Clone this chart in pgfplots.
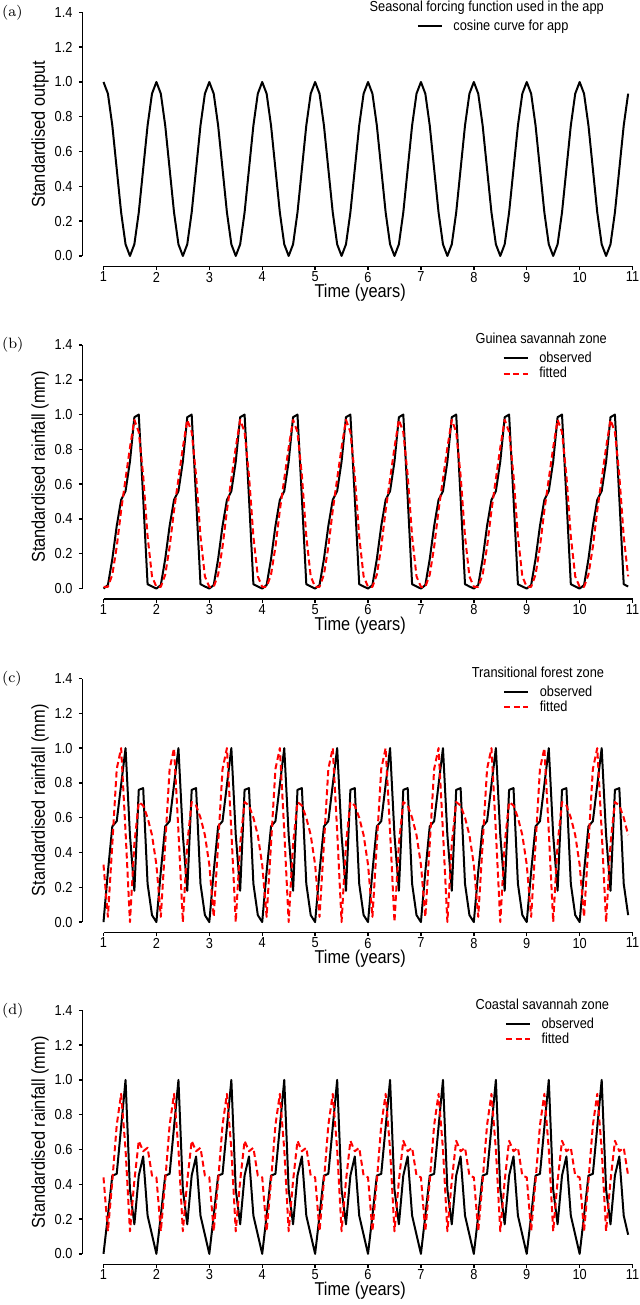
\documentclass[border=0pt]{standalone}
\usepackage{pgfplots}
\pgfplotsset{compat=1.18}
\usepackage{pgfplotstable}
\usepackage{fontspec}
\newfontfamily\nf[FakeStretch=0.88]{Liberation Sans}
\newcommand\ticfont{\nf\fontsize{7.25}{8.5}\selectfont}
\newcommand\labfont{\nf\fontsize{9.3}{11}\selectfont}

% (a) cosine forcing curve, monthly
\pgfplotstableread[row sep=\\]{
t y\\
1.0000 1.000\\ 1.0833 0.933\\ 1.1667 0.750\\ 1.2500 0.500\\ 1.3333 0.250\\ 1.4167 0.067\\ 1.5000 0.000\\ 1.5833 0.067\\ 1.6667 0.250\\ 1.7500 0.500\\ 1.8333 0.750\\ 1.9167 0.933\\
2.0000 1.000\\ 2.0833 0.933\\ 2.1667 0.750\\ 2.2500 0.500\\ 2.3333 0.250\\ 2.4167 0.067\\ 2.5000 0.000\\ 2.5833 0.067\\ 2.6667 0.250\\ 2.7500 0.500\\ 2.8333 0.750\\ 2.9167 0.933\\
3.0000 1.000\\ 3.0833 0.933\\ 3.1667 0.750\\ 3.2500 0.500\\ 3.3333 0.250\\ 3.4167 0.067\\ 3.5000 0.000\\ 3.5833 0.067\\ 3.6667 0.250\\ 3.7500 0.500\\ 3.8333 0.750\\ 3.9167 0.933\\
4.0000 1.000\\ 4.0833 0.933\\ 4.1667 0.750\\ 4.2500 0.500\\ 4.3333 0.250\\ 4.4167 0.067\\ 4.5000 0.000\\ 4.5833 0.067\\ 4.6667 0.250\\ 4.7500 0.500\\ 4.8333 0.750\\ 4.9167 0.933\\
5.0000 1.000\\ 5.0833 0.933\\ 5.1667 0.750\\ 5.2500 0.500\\ 5.3333 0.250\\ 5.4167 0.067\\ 5.5000 0.000\\ 5.5833 0.067\\ 5.6667 0.250\\ 5.7500 0.500\\ 5.8333 0.750\\ 5.9167 0.933\\
6.0000 1.000\\ 6.0833 0.933\\ 6.1667 0.750\\ 6.2500 0.500\\ 6.3333 0.250\\ 6.4167 0.067\\ 6.5000 0.000\\ 6.5833 0.067\\ 6.6667 0.250\\ 6.7500 0.500\\ 6.8333 0.750\\ 6.9167 0.933\\
7.0000 1.000\\ 7.0833 0.933\\ 7.1667 0.750\\ 7.2500 0.500\\ 7.3333 0.250\\ 7.4167 0.067\\ 7.5000 0.000\\ 7.5833 0.067\\ 7.6667 0.250\\ 7.7500 0.500\\ 7.8333 0.750\\ 7.9167 0.933\\
8.0000 1.000\\ 8.0833 0.933\\ 8.1667 0.750\\ 8.2500 0.500\\ 8.3333 0.250\\ 8.4167 0.067\\ 8.5000 0.000\\ 8.5833 0.067\\ 8.6667 0.250\\ 8.7500 0.500\\ 8.8333 0.750\\ 8.9167 0.933\\
9.0000 1.000\\ 9.0833 0.933\\ 9.1667 0.750\\ 9.2500 0.500\\ 9.3333 0.250\\ 9.4167 0.067\\ 9.5000 0.000\\ 9.5833 0.067\\ 9.6667 0.250\\ 9.7500 0.500\\ 9.8333 0.750\\ 9.9167 0.933\\
10.0000 1.000\\ 10.0833 0.933\\ 10.1667 0.750\\ 10.2500 0.500\\ 10.3333 0.250\\ 10.4167 0.067\\ 10.5000 0.000\\ 10.5833 0.067\\ 10.6667 0.250\\ 10.7500 0.500\\ 10.8333 0.750\\ 10.9167 0.933\\
}\tabA

% (b) Guinea savannah zone: observed, fitted
\pgfplotstableread[row sep=\\]{
t obs fit\\
1.0000 0.000 0.010\\ 1.0833 0.020 0.010\\ 1.1667 0.170 0.080\\ 1.2500 0.360 0.240\\ 1.3333 0.510 0.450\\ 1.4167 0.560 0.630\\ 1.5000 0.730 0.810\\ 1.5833 0.985 0.970\\ 1.6667 1.000 0.900\\ 1.7500 0.520 0.650\\ 1.8333 0.025 0.300\\ 1.9167 0.012 0.070\\
2.0000 0.000 0.010\\ 2.0833 0.020 0.010\\ 2.1667 0.170 0.080\\ 2.2500 0.360 0.240\\ 2.3333 0.510 0.450\\ 2.4167 0.560 0.630\\ 2.5000 0.730 0.810\\ 2.5833 0.985 0.970\\ 2.6667 1.000 0.900\\ 2.7500 0.520 0.650\\ 2.8333 0.025 0.300\\ 2.9167 0.012 0.070\\
3.0000 0.000 0.010\\ 3.0833 0.020 0.010\\ 3.1667 0.170 0.080\\ 3.2500 0.360 0.240\\ 3.3333 0.510 0.450\\ 3.4167 0.560 0.630\\ 3.5000 0.730 0.810\\ 3.5833 0.985 0.970\\ 3.6667 1.000 0.900\\ 3.7500 0.520 0.650\\ 3.8333 0.025 0.300\\ 3.9167 0.012 0.070\\
4.0000 0.000 0.010\\ 4.0833 0.020 0.010\\ 4.1667 0.170 0.080\\ 4.2500 0.360 0.240\\ 4.3333 0.510 0.450\\ 4.4167 0.560 0.630\\ 4.5000 0.730 0.810\\ 4.5833 0.985 0.970\\ 4.6667 1.000 0.900\\ 4.7500 0.520 0.650\\ 4.8333 0.025 0.300\\ 4.9167 0.012 0.070\\
5.0000 0.000 0.010\\ 5.0833 0.020 0.010\\ 5.1667 0.170 0.080\\ 5.2500 0.360 0.240\\ 5.3333 0.510 0.450\\ 5.4167 0.560 0.630\\ 5.5000 0.730 0.810\\ 5.5833 0.985 0.970\\ 5.6667 1.000 0.900\\ 5.7500 0.520 0.650\\ 5.8333 0.025 0.300\\ 5.9167 0.012 0.070\\
6.0000 0.000 0.010\\ 6.0833 0.020 0.010\\ 6.1667 0.170 0.080\\ 6.2500 0.360 0.240\\ 6.3333 0.510 0.450\\ 6.4167 0.560 0.630\\ 6.5000 0.730 0.810\\ 6.5833 0.985 0.970\\ 6.6667 1.000 0.900\\ 6.7500 0.520 0.650\\ 6.8333 0.025 0.300\\ 6.9167 0.012 0.070\\
7.0000 0.000 0.010\\ 7.0833 0.020 0.010\\ 7.1667 0.170 0.080\\ 7.2500 0.360 0.240\\ 7.3333 0.510 0.450\\ 7.4167 0.560 0.630\\ 7.5000 0.730 0.810\\ 7.5833 0.985 0.970\\ 7.6667 1.000 0.900\\ 7.7500 0.520 0.650\\ 7.8333 0.025 0.300\\ 7.9167 0.012 0.070\\
8.0000 0.000 0.010\\ 8.0833 0.020 0.010\\ 8.1667 0.170 0.080\\ 8.2500 0.360 0.240\\ 8.3333 0.510 0.450\\ 8.4167 0.560 0.630\\ 8.5000 0.730 0.810\\ 8.5833 0.985 0.970\\ 8.6667 1.000 0.900\\ 8.7500 0.520 0.650\\ 8.8333 0.025 0.300\\ 8.9167 0.012 0.070\\
9.0000 0.000 0.010\\ 9.0833 0.020 0.010\\ 9.1667 0.170 0.080\\ 9.2500 0.360 0.240\\ 9.3333 0.510 0.450\\ 9.4167 0.560 0.630\\ 9.5000 0.730 0.810\\ 9.5833 0.985 0.970\\ 9.6667 1.000 0.900\\ 9.7500 0.520 0.650\\ 9.8333 0.025 0.300\\ 9.9167 0.012 0.070\\
10.0000 0.000 0.010\\ 10.0833 0.020 0.010\\ 10.1667 0.170 0.080\\ 10.2500 0.360 0.240\\ 10.3333 0.510 0.450\\ 10.4167 0.560 0.630\\ 10.5000 0.730 0.810\\ 10.5833 0.985 0.970\\ 10.6667 1.000 0.900\\ 10.7500 0.520 0.650\\ 10.8333 0.025 0.300\\ 10.9167 0.012 0.070\\
}\tabB

% (c) Transitional forest zone: observed, fitted
\pgfplotstableread[row sep=\\]{
t obs fit\\
1.0000 0.000 0.330\\ 1.0833 0.290 0.030\\ 1.1667 0.550 0.450\\ 1.2500 0.580 0.880\\ 1.3333 0.790 1.000\\ 1.4167 1.000 0.520\\ 1.5000 0.500 0.000\\ 1.5833 0.180 0.450\\ 1.6667 0.760 0.690\\ 1.7500 0.770 0.670\\ 1.8333 0.220 0.600\\ 1.9167 0.040 0.500\\
2.0000 0.000 0.330\\ 2.0833 0.290 0.030\\ 2.1667 0.550 0.450\\ 2.2500 0.580 0.880\\ 2.3333 0.790 1.000\\ 2.4167 1.000 0.520\\ 2.5000 0.500 0.000\\ 2.5833 0.180 0.450\\ 2.6667 0.760 0.690\\ 2.7500 0.770 0.670\\ 2.8333 0.220 0.600\\ 2.9167 0.040 0.500\\
3.0000 0.000 0.330\\ 3.0833 0.290 0.030\\ 3.1667 0.550 0.450\\ 3.2500 0.580 0.880\\ 3.3333 0.790 1.000\\ 3.4167 1.000 0.520\\ 3.5000 0.500 0.000\\ 3.5833 0.180 0.450\\ 3.6667 0.760 0.690\\ 3.7500 0.770 0.670\\ 3.8333 0.220 0.600\\ 3.9167 0.040 0.500\\
4.0000 0.000 0.330\\ 4.0833 0.290 0.030\\ 4.1667 0.550 0.450\\ 4.2500 0.580 0.880\\ 4.3333 0.790 1.000\\ 4.4167 1.000 0.520\\ 4.5000 0.500 0.000\\ 4.5833 0.180 0.450\\ 4.6667 0.760 0.690\\ 4.7500 0.770 0.670\\ 4.8333 0.220 0.600\\ 4.9167 0.040 0.500\\
5.0000 0.000 0.330\\ 5.0833 0.290 0.030\\ 5.1667 0.550 0.450\\ 5.2500 0.580 0.880\\ 5.3333 0.790 1.000\\ 5.4167 1.000 0.520\\ 5.5000 0.500 0.000\\ 5.5833 0.180 0.450\\ 5.6667 0.760 0.690\\ 5.7500 0.770 0.670\\ 5.8333 0.220 0.600\\ 5.9167 0.040 0.500\\
6.0000 0.000 0.330\\ 6.0833 0.290 0.030\\ 6.1667 0.550 0.450\\ 6.2500 0.580 0.880\\ 6.3333 0.790 1.000\\ 6.4167 1.000 0.520\\ 6.5000 0.500 0.000\\ 6.5833 0.180 0.450\\ 6.6667 0.760 0.690\\ 6.7500 0.770 0.670\\ 6.8333 0.220 0.600\\ 6.9167 0.040 0.500\\
7.0000 0.000 0.330\\ 7.0833 0.290 0.030\\ 7.1667 0.550 0.450\\ 7.2500 0.580 0.880\\ 7.3333 0.790 1.000\\ 7.4167 1.000 0.520\\ 7.5000 0.500 0.000\\ 7.5833 0.180 0.450\\ 7.6667 0.760 0.690\\ 7.7500 0.770 0.670\\ 7.8333 0.220 0.600\\ 7.9167 0.040 0.500\\
8.0000 0.000 0.330\\ 8.0833 0.290 0.030\\ 8.1667 0.550 0.450\\ 8.2500 0.580 0.880\\ 8.3333 0.790 1.000\\ 8.4167 1.000 0.520\\ 8.5000 0.500 0.000\\ 8.5833 0.180 0.450\\ 8.6667 0.760 0.690\\ 8.7500 0.770 0.670\\ 8.8333 0.220 0.600\\ 8.9167 0.040 0.500\\
9.0000 0.000 0.330\\ 9.0833 0.290 0.030\\ 9.1667 0.550 0.450\\ 9.2500 0.580 0.880\\ 9.3333 0.790 1.000\\ 9.4167 1.000 0.520\\ 9.5000 0.500 0.000\\ 9.5833 0.180 0.450\\ 9.6667 0.760 0.690\\ 9.7500 0.770 0.670\\ 9.8333 0.220 0.600\\ 9.9167 0.040 0.500\\
10.0000 0.000 0.330\\ 10.0833 0.290 0.030\\ 10.1667 0.550 0.450\\ 10.2500 0.580 0.880\\ 10.3333 0.790 1.000\\ 10.4167 1.000 0.520\\ 10.5000 0.500 0.000\\ 10.5833 0.180 0.450\\ 10.6667 0.760 0.690\\ 10.7500 0.770 0.670\\ 10.8333 0.220 0.600\\ 10.9167 0.040 0.500\\
}\tabC

% (d) Coastal savannah zone: observed, fitted
\pgfplotstableread[row sep=\\]{
t obs fit\\
1.0000 0.000 0.440\\ 1.0833 0.220 0.130\\ 1.1667 0.450 0.420\\ 1.2500 0.460 0.740\\ 1.3333 0.730 0.920\\ 1.4167 1.000 0.600\\ 1.5000 0.370 0.130\\ 1.5833 0.170 0.420\\ 1.6667 0.450 0.650\\ 1.7500 0.560 0.590\\ 1.8333 0.220 0.610\\ 1.9167 0.110 0.450\\
2.0000 0.000 0.440\\ 2.0833 0.220 0.130\\ 2.1667 0.450 0.420\\ 2.2500 0.460 0.740\\ 2.3333 0.730 0.920\\ 2.4167 1.000 0.600\\ 2.5000 0.370 0.130\\ 2.5833 0.170 0.420\\ 2.6667 0.450 0.650\\ 2.7500 0.560 0.590\\ 2.8333 0.220 0.610\\ 2.9167 0.110 0.450\\
3.0000 0.000 0.440\\ 3.0833 0.220 0.130\\ 3.1667 0.450 0.420\\ 3.2500 0.460 0.740\\ 3.3333 0.730 0.920\\ 3.4167 1.000 0.600\\ 3.5000 0.370 0.130\\ 3.5833 0.170 0.420\\ 3.6667 0.450 0.650\\ 3.7500 0.560 0.590\\ 3.8333 0.220 0.610\\ 3.9167 0.110 0.450\\
4.0000 0.000 0.440\\ 4.0833 0.220 0.130\\ 4.1667 0.450 0.420\\ 4.2500 0.460 0.740\\ 4.3333 0.730 0.920\\ 4.4167 1.000 0.600\\ 4.5000 0.370 0.130\\ 4.5833 0.170 0.420\\ 4.6667 0.450 0.650\\ 4.7500 0.560 0.590\\ 4.8333 0.220 0.610\\ 4.9167 0.110 0.450\\
5.0000 0.000 0.440\\ 5.0833 0.220 0.130\\ 5.1667 0.450 0.420\\ 5.2500 0.460 0.740\\ 5.3333 0.730 0.920\\ 5.4167 1.000 0.600\\ 5.5000 0.370 0.130\\ 5.5833 0.170 0.420\\ 5.6667 0.450 0.650\\ 5.7500 0.560 0.590\\ 5.8333 0.220 0.610\\ 5.9167 0.110 0.450\\
6.0000 0.000 0.440\\ 6.0833 0.220 0.130\\ 6.1667 0.450 0.420\\ 6.2500 0.460 0.740\\ 6.3333 0.730 0.920\\ 6.4167 1.000 0.600\\ 6.5000 0.370 0.130\\ 6.5833 0.170 0.420\\ 6.6667 0.450 0.650\\ 6.7500 0.560 0.590\\ 6.8333 0.220 0.610\\ 6.9167 0.110 0.450\\
7.0000 0.000 0.440\\ 7.0833 0.220 0.130\\ 7.1667 0.450 0.420\\ 7.2500 0.460 0.740\\ 7.3333 0.730 0.920\\ 7.4167 1.000 0.600\\ 7.5000 0.370 0.130\\ 7.5833 0.170 0.420\\ 7.6667 0.450 0.650\\ 7.7500 0.560 0.590\\ 7.8333 0.220 0.610\\ 7.9167 0.110 0.450\\
8.0000 0.000 0.440\\ 8.0833 0.220 0.130\\ 8.1667 0.450 0.420\\ 8.2500 0.460 0.740\\ 8.3333 0.730 0.920\\ 8.4167 1.000 0.600\\ 8.5000 0.370 0.130\\ 8.5833 0.170 0.420\\ 8.6667 0.450 0.650\\ 8.7500 0.560 0.590\\ 8.8333 0.220 0.610\\ 8.9167 0.110 0.450\\
9.0000 0.000 0.440\\ 9.0833 0.220 0.130\\ 9.1667 0.450 0.420\\ 9.2500 0.460 0.740\\ 9.3333 0.730 0.920\\ 9.4167 1.000 0.600\\ 9.5000 0.370 0.130\\ 9.5833 0.170 0.420\\ 9.6667 0.450 0.650\\ 9.7500 0.560 0.590\\ 9.8333 0.220 0.610\\ 9.9167 0.110 0.450\\
10.0000 0.000 0.440\\ 10.0833 0.220 0.130\\ 10.1667 0.450 0.420\\ 10.2500 0.460 0.740\\ 10.3333 0.730 0.920\\ 10.4167 1.000 0.600\\ 10.5000 0.370 0.130\\ 10.5833 0.170 0.420\\ 10.6667 0.450 0.650\\ 10.7500 0.560 0.590\\ 10.8333 0.220 0.610\\ 10.9167 0.110 0.450\\
}\tabD

\pgfplotsset{
  panel/.style={
    scale only axis, width=275.1pt, height=127pt,
    anchor=south west,
    xmin=0.6, xmax=11, ymin=-0.06, ymax=1.4,
    clip=false,
    axis x line*=bottom, axis y line*=left,
    axis line style={draw=none},
    tick align=outside, major tick length=1.75pt,
    tick style={black, line width=0.7pt},
    xtick={1,2,3,4,5,6,7,8,9,10,11},
    ytick={0,0.2,0.4,0.6,0.8,1.0,1.2,1.4},
    yticklabel={\pgfmathprintnumber[fixed,fixed zerofill,precision=1]{\tick}},
    /pgf/number format/assume math mode=true,
    tick label style={font=\ticfont},
    xticklabel style={inner sep=0pt, yshift=-0.8pt},
    yticklabel style={inner sep=0pt, xshift=-3pt},
    every axis x label/.style={at={(axis description cs:0.505,-0.105)}, anchor=center, font=\labfont},
    every axis y label/.style={at={(axis description cs:-0.077,0.52)}, rotate=90, anchor=center, font=\labfont},
    xlabel={Time (years)},
    legend style={draw=none, fill=none, inner sep=0pt, outer sep=0pt,
      font=\ticfont, anchor=north west, row sep=-0.2pt,
      nodes={inner sep=0pt, text height=6.1pt, text depth=1.7pt},
      /tikz/every odd column/.append style={column sep=5.3pt}},
    legend cell align=left,
    legend image code/.code={\draw[##1] (0pt,0pt) -- (12pt,0pt);},
  },
  obs/.style={black, line width=1pt, line join=round},
  fit/.style={red, line width=1pt, line join=round, dash pattern=on 3pt off 1.8pt},
}
\newcommand\axlines{%
  \draw[line width=0.7pt] (axis cs:1,-0.06) -- (axis cs:11,-0.06);
  \draw[line width=0.7pt] (axis cs:0.6,0) -- (axis cs:0.6,1.4);}
\newcommand\plab[1]{\node[anchor=west, inner sep=0pt, font=\fontsize{7.5}{9}\selectfont] at (axis description cs:-0.1465,1.0) {#1};}

\begin{document}
\begin{tikzpicture}
\path[use as bounding box] (0,0) rectangle (319.5pt,-652.5pt);

% (a)
\begin{axis}[panel, at={(41.17pt,-133.2pt)}, ylabel={Standardised output},
  legend style={at={(axis description cs:0.608,0.978)}}]
\addplot[obs] table[x=t, y=y] {\tabA};
\addlegendentry{cosine curve for app}
\axlines
\node[anchor=base, inner sep=0pt, font=\ticfont] at (axis description cs:0.735,1.004) {Seasonal forcing function used in the app};
\plab{(a)}
\end{axis}

% (b)
\begin{axis}[panel, at={(41.17pt,-299.5pt)}, ylabel={Standardised rainfall (mm)},
  legend style={at={(axis description cs:0.764,0.978)}}]
\addplot[obs] table[x=t, y=obs] {\tabB};
\addlegendentry{observed}
\addplot[fit] table[x=t, y=fit] {\tabB};
\addlegendentry{fitted}
\axlines
\node[anchor=base, inner sep=0pt, font=\ticfont] at (axis description cs:0.834,1.004) {Guinea savannah zone};
\plab{(b)}
\end{axis}

% (c)
\begin{axis}[panel, at={(41.17pt,-466.25pt)}, ylabel={Standardised rainfall (mm)},
  legend style={at={(axis description cs:0.765,0.978)}}]
\addplot[obs] table[x=t, y=obs] {\tabC};
\addlegendentry{observed}
\addplot[fit] table[x=t, y=fit] {\tabC};
\addlegendentry{fitted}
\axlines
\node[anchor=base, inner sep=0pt, font=\ticfont] at (axis description cs:0.828,1.004) {Transitional forest zone};
\plab{(c)}
\end{axis}

% (d)
\begin{axis}[panel, at={(41.17pt,-632.15pt)}, ylabel={Standardised rainfall (mm)},
  legend style={at={(axis description cs:0.768,0.978)}}]
\addplot[obs] table[x=t, y=obs] {\tabD};
\addlegendentry{observed}
\addplot[fit] table[x=t, y=fit] {\tabD};
\addlegendentry{fitted}
\axlines
\node[anchor=base, inner sep=0pt, font=\ticfont] at (axis description cs:0.836,1.004) {Coastal savannah zone};
\plab{(d)}
\end{axis}
\end{tikzpicture}
\end{document}
